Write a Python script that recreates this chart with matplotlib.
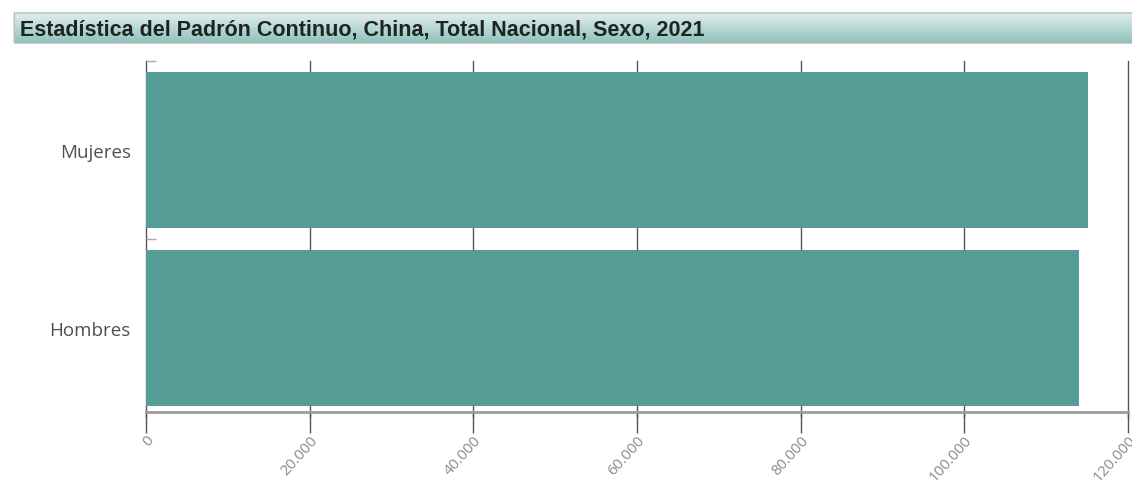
import numpy as np
import matplotlib
matplotlib.use("Agg")
import matplotlib.pyplot as plt
from matplotlib.patches import FancyBboxPatch

# Data
categories = ["Hombres", "Mujeres"]
values = [114000, 115100]
xticks = [0, 20000, 40000, 60000, 80000, 100000, 120000]
xtick_labels = ["0", "20.000", "40.000", "60.000", "80.000", "100.000", "120.000"]
title = "Estadística del Padrón Continuo, China, Total Nacional, Sexo, 2021"

W, H = 1132, 485
fig = plt.figure(figsize=(W / 100, H / 100), dpi=100)
fig.patch.set_facecolor("white")

# Title banner with vertical gradient
bx0, by0, bx1, by1 = 12, 13, 1140, 45
bax = fig.add_axes([bx0 / W, 1 - by1 / H, (bx1 - bx0) / W, (by1 - by0) / H])
bax.set_xlim(0, 1)
bax.set_ylim(0, 1)
bax.axis("off")
top = np.array([0xe4, 0xf0, 0xee]) / 255
bot = np.array([0x8c, 0xc0, 0xbc]) / 255
t = np.linspace(0, 1, 64)[:, None, None]
grad = top[None, None, :] * (1 - t) + bot[None, None, :] * t
grad = np.repeat(grad, 4, axis=1)
img = bax.imshow(grad, extent=[0, 1, 0, 1], aspect="auto", origin="upper", zorder=1)
box = FancyBboxPatch((0.002, 0.03), 0.996, 0.94,
                     boxstyle="round,pad=0,rounding_size=0.004",
                     transform=bax.transAxes, facecolor="none",
                     edgecolor="#b3bcbb", linewidth=1.0, zorder=2)
bax.add_patch(box)
img.set_clip_path(box)
fig.text(20 / W, 1 - 30 / H, title, fontsize=15.5, fontweight="bold",
         family="Liberation Sans", color="#1e2424", va="center", ha="left")

# Main plot area
ax_top, ax_bot = 62, 418
ax = fig.add_axes([146 / W, 1 - ax_bot / H, (1128 - 146) / W, (ax_bot - ax_top) / H])
for s in ["top", "right", "left"]:
    ax.spines[s].set_visible(False)
ax.spines["bottom"].set_position(("data", -0.47))
ax.spines["bottom"].set_color("#a09a9a")
ax.spines["bottom"].set_linewidth(2.0)
ax.spines["bottom"].set_zorder(4)
ax.set_facecolor("white")

ypos = np.arange(len(categories))
ax.barh(ypos, values, height=0.877, color="#569c97", zorder=3)
ax.set_xlim(0, 120000)
ax.set_ylim(-0.5, 1.5)

ax.set_xticks(xticks)
ax.set_xticklabels(xtick_labels, rotation=48, ha="right", va="top",
                   rotation_mode="anchor", fontsize=11, color="#8a8a8a",
                   family="Open Sans")
ax.tick_params(axis="x", length=15, width=1.0, color="#555555", pad=0,
               direction="out")
ax.grid(axis="x", color="#555555", linewidth=1.0, zorder=1)
for gl in ax.get_xgridlines():
    gl.set_clip_on(False)

ax.set_yticks(ypos)
ax.set_yticklabels(categories, fontsize=13.5, color="#505050", family="Open Sans")
ax.tick_params(axis="y", length=0, pad=11)
# short category boundary marks on the left
ax.set_yticks([0.5, 1.5], minor=True)
ax.tick_params(axis="y", which="minor", length=7, width=1.0, color="#aaaaaa",
               direction="in")

fig.savefig("out.png", dpi=100, facecolor="white")
